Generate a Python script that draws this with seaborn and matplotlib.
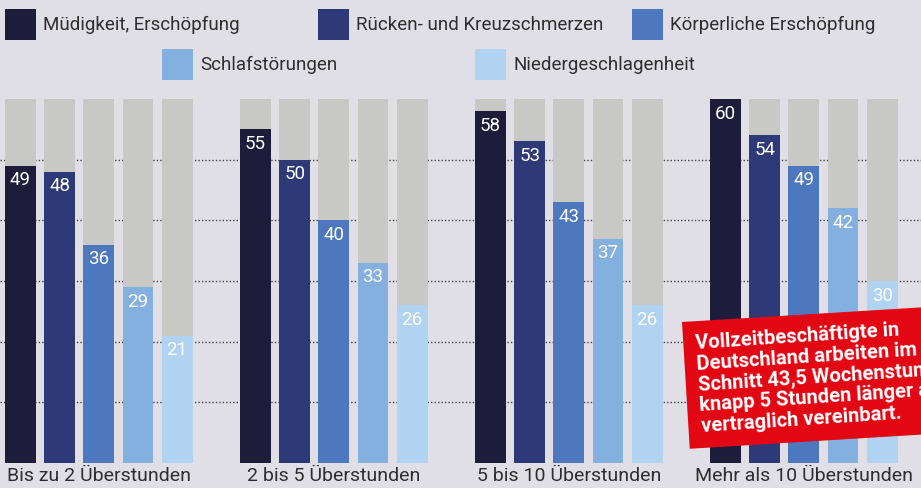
import seaborn as sns
import pandas as pd
import matplotlib.pyplot as plt
from matplotlib.patches import Rectangle

groups = ['Bis zu 2 Überstunden', '2 bis 5 Überstunden', '5 bis 10 Überstunden', 'Mehr als 10 Überstunden']
symptoms = ['Müdigkeit, Erschöpfung', 'Rücken- und Kreuzschmerzen', 'Körperliche Erschöpfung',
            'Schlafstörungen', 'Niedergeschlagenheit']
values = [
    [49, 48, 36, 29, 21],
    [55, 50, 40, 33, 26],
    [58, 53, 43, 37, 26],
    [60, 54, 49, 42, 30],
]
max_value = 60
grid_ticks = [10, 20, 30, 40, 50]
note_lines = ['Vollzeitbeschäftigte in', 'Deutschland arbeiten im', 'Schnitt 43,5 Wochenstunden,',
              'knapp 5 Stunden länger als', 'vertraglich vereinbart.']

colors = ['#1d1c3b', '#2d3a77', '#4e78bd', '#84b0e0', '#afd3f1']
grey = '#c8c8c5'
bg = '#e1dfe6'
txt = '#2e2e2e'

rows = []
for g, vals in zip(groups, values):
    for s, v in zip(symptoms, vals):
        rows.append({'group': g, 'symptom': s, 'value': v, 'max': max_value})
df = pd.DataFrame(rows)

sns.set_theme(style='white')
plt.rcParams['font.family'] = ['Roboto', 'DejaVu Sans']

fig = plt.figure(figsize=(9.21, 4.88), dpi=100, facecolor=bg)
ax = fig.add_axes([0, 25 / 488, 1, 364 / 488])
ax.set_facecolor(bg)

# grey "full" bars behind
sns.barplot(data=df, x='group', y='max', hue='symptom', order=groups, hue_order=symptoms,
            palette=[grey] * 5, saturation=1, width=5 / 6, gap=0.21, errorbar=None,
            legend=False, linewidth=0, ax=ax)
n_grey = len(ax.containers)
sns.barplot(data=df, x='group', y='value', hue='symptom', order=groups, hue_order=symptoms,
            palette=colors, saturation=1, width=5 / 6, gap=0.21, errorbar=None,
            legend=False, linewidth=0, ax=ax)

for cont in ax.containers[n_grey:]:
    for p in cont:
        h = p.get_height()
        ax.annotate(f'{h:.0f}', (p.get_x() + p.get_width() / 2, h), xytext=(0, -4),
                    textcoords='offset points', ha='center', va='top',
                    color='white', fontsize=13.5)

ax.set_ylim(0, max_value)
ax.set_xlim(-0.4206, 3.4985)
ax.set_yticks(grid_ticks)
ax.set_yticklabels([])
ax.yaxis.grid(True, color='#444444', linestyle=(0, (1, 1.5)), linewidth=1)
ax.set_axisbelow(True)
ax.tick_params(axis='both', length=0)
ax.tick_params(axis='x', pad=3, labelsize=14, labelcolor=txt)
ax.set_xlabel('')
ax.set_ylabel('')
sns.despine(ax=ax, left=True, bottom=True)

# overlay in pixel coordinates for legend and note
ov = fig.add_axes([0, 0, 1, 1], facecolor='none')
ov.set_xlim(0, 921)
ov.set_ylim(488, 0)
ov.axis('off')

legend_pos = [(5, 9), (318, 9), (632, 9), (162, 49), (475, 49)]
for (x, y), s, c in zip(legend_pos, symptoms, colors):
    ov.add_patch(Rectangle((x, y), 31, 31, color=c, lw=0))
    ov.text(x + 38, y + 16, s, va='center', ha='left', fontsize=13.5, color=txt)

ov.add_patch(Rectangle((682, 322), 320, 127, angle=-3.5, color='#e30613', lw=0, zorder=5))
ov.text(695, 334, '\n'.join(note_lines), rotation=3.8, rotation_mode='anchor',
        ha='left', va='top', color='white', fontsize=14.5, fontweight='bold',
        linespacing=1.12, zorder=6)

fig.savefig('out.png', dpi=100, facecolor=bg)
